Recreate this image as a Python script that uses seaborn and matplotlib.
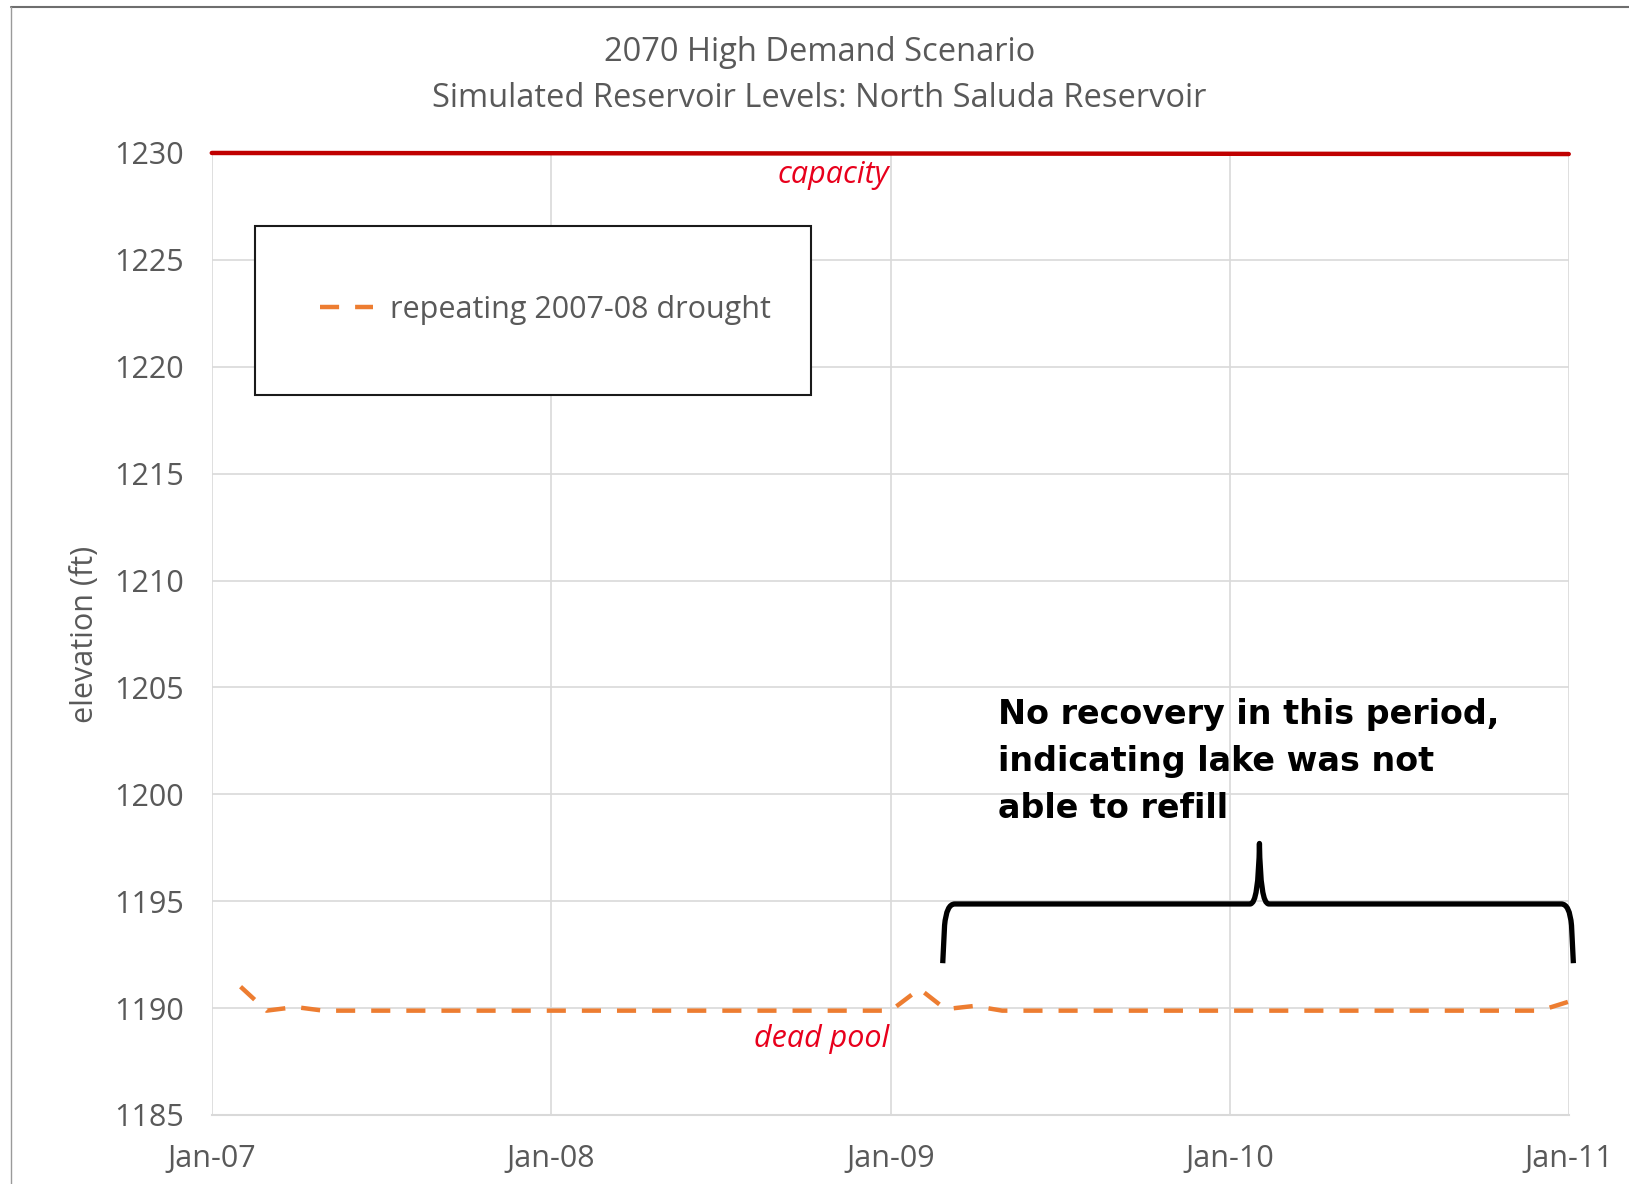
import matplotlib
matplotlib.use("Agg")
import matplotlib.pyplot as plt
import matplotlib.dates as mdates
from matplotlib.lines import Line2D
from matplotlib.patches import Rectangle, PathPatch
from matplotlib.path import Path
import numpy as np
import pandas as pd
import seaborn as sns

# ---- data ----
months = pd.date_range("2007-02-01", "2011-01-01", freq="MS")
elevation = [1191.0, 1189.88, 1190.05,
             1189.88, 1189.88, 1189.88, 1189.88, 1189.88, 1189.88, 1189.88, 1189.88,
             1189.88, 1189.88, 1189.88, 1189.88, 1189.88, 1189.88, 1189.88, 1189.88,
             1189.88, 1189.88, 1189.88, 1189.88, 1189.88,
             1190.9, 1189.95, 1190.1,
             1189.88, 1189.88, 1189.88, 1189.88, 1189.88, 1189.88, 1189.88, 1189.88,
             1189.88, 1189.88, 1189.88, 1189.88, 1189.88, 1189.88, 1189.88, 1189.88,
             1189.88, 1189.88, 1189.88, 1189.88,
             1190.3]
capacity_x = ["2007-01-01", "2011-01-01"]
capacity_y = [1230.0, 1229.95]
series_label = "repeating 2007-08 drought"
title_lines = ["2070 High Demand Scenario",
               "Simulated Reservoir Levels: North Saluda Reservoir"]
y_ticks = [1185, 1190, 1195, 1200, 1205, 1210, 1215, 1220, 1225, 1230]
x_ticks = ["2007-01-01", "2008-01-01", "2009-01-01", "2010-01-01", "2011-01-01"]
annotation = "No recovery in this period,\nindicating lake was not\nable to refill"

df = pd.DataFrame({"month": months, "elevation": elevation, "series": series_label})
cap_df = pd.DataFrame({"month": pd.to_datetime(capacity_x), "elevation": capacity_y})

sns.set_theme(style="white")
plt.rcParams["font.family"] = ["Open Sans", "DejaVu Sans"]

GRAY = "#595959"
ORANGE = "#ED7D31"
RED_TXT = "#E8001C"

fig = plt.figure(figsize=(16.29, 11.84), dpi=100)
ax = fig.add_axes([0.130, 0.0583, 0.833, 0.8125])

# capacity line
sns.lineplot(data=cap_df, x="month", y="elevation", color="#C00000", lw=3.2, ax=ax,
             legend=False, zorder=3)
ax.lines[-1].set_clip_on(False)
# drought series
sns.lineplot(data=df, x="month", y="elevation", color=ORANGE, lw=3.2, ax=ax,
             label=series_label, zorder=4)
ax.lines[-1].set_dashes((4.3, 3.6))
ax.lines[-1].set_clip_on(False)

ax.set_xlim(pd.Timestamp("2007-01-01"), pd.Timestamp("2011-01-01"))
ax.set_ylim(1185, 1230)
ax.set_yticks(y_ticks)
ax.set_xticks(pd.to_datetime(x_ticks))
ax.xaxis.set_major_formatter(mdates.DateFormatter("%b-%y"))
ax.grid(True, color="#D9D9D9", lw=1.2)
ax.set_axisbelow(True)
for s in ["top", "right", "left"]:
    ax.spines[s].set_visible(False)
ax.spines["bottom"].set_color("#D9D9D9")
ax.spines["bottom"].set_linewidth(1.5)
ax.tick_params(axis="both", length=0, labelsize=22, labelcolor=GRAY)
ax.tick_params(axis="y", pad=20)
ax.tick_params(axis="x", pad=21)
ax.set_xlabel("")
ax.set_ylabel("elevation (ft)", fontsize=22, color=GRAY, labelpad=10)

# title
fig.text(0.503, 0.956, title_lines[0], ha="center", va="center", fontsize=23.5, color=GRAY)
fig.text(0.503, 0.917, title_lines[1], ha="center", va="center", fontsize=23.5, color=GRAY)

# labels
ax.text(pd.Timestamp("2008-12-30"), 1228.95, "capacity", color=RED_TXT, style="italic",
        fontsize=22, ha="right", va="center")
ax.text(pd.Timestamp("2008-12-30"), 1188.55, "dead pool", color=RED_TXT, style="italic",
        fontsize=22, ha="right", va="center")

# legend box
ax.add_patch(Rectangle((0.0317, 0.748), 0.410, 0.176, transform=ax.transAxes,
                       fill=True, facecolor="white", edgecolor="#1a1a1a", lw=1.5, zorder=5))
leg = ax.legend(loc="center left", bbox_to_anchor=(0.0796, 0.837), frameon=False, fontsize=22,
                handlelength=1.75, handletextpad=0.55, labelcolor=GRAY,
                borderaxespad=0, borderpad=0)
leg.set_zorder(6)

# annotation text
ax.text(pd.Timestamp("2009-04-27"), 1204.5, annotation, fontsize=24, fontweight="bold",
        color="black", ha="left", va="top", family=["DejaVu Sans"], linespacing=1.53)

# brace
t_l = mdates.date2num(pd.Timestamp("2009-02-26"))
t_m = mdates.date2num(pd.Timestamp("2010-02-02"))
t_r = mdates.date2num(pd.Timestamp("2011-01-06"))
yb, yh, yt = 1192.1, 1194.87, 1197.7
verts = [(t_l, yb), (t_l + 2, yh - 1.0), (t_l + 4, yh), (t_l + 13, yh),
         (t_m - 10, yh), (t_m - 1, yh), (t_m, yt),
         (t_m + 1, yh), (t_m + 10, yh),
         (t_r - 13, yh), (t_r - 4, yh), (t_r - 2, yh - 1.0), (t_r, yb)]
codes = [Path.MOVETO, Path.LINETO, Path.CURVE3, Path.CURVE3,
         Path.LINETO, Path.CURVE3, Path.CURVE3,
         Path.CURVE3, Path.CURVE3,
         Path.LINETO, Path.CURVE3, Path.CURVE3, Path.LINETO]
ax.add_patch(PathPatch(Path(verts, codes), fill=False, edgecolor="black", lw=3.8,
                       clip_on=False, zorder=6, capstyle="butt", joinstyle="round"))

# figure border (top and left)
fig.add_artist(Line2D([0.0068, 1.0], [0.9945, 0.9945], transform=fig.transFigure,
                      color="#6e6e6e", lw=1.5))
fig.add_artist(Line2D([0.0068, 0.0068], [0.0, 0.9945], transform=fig.transFigure,
                      color="#9a9a9a", lw=1.0))

fig.savefig("out.png", dpi=100, facecolor="white")
